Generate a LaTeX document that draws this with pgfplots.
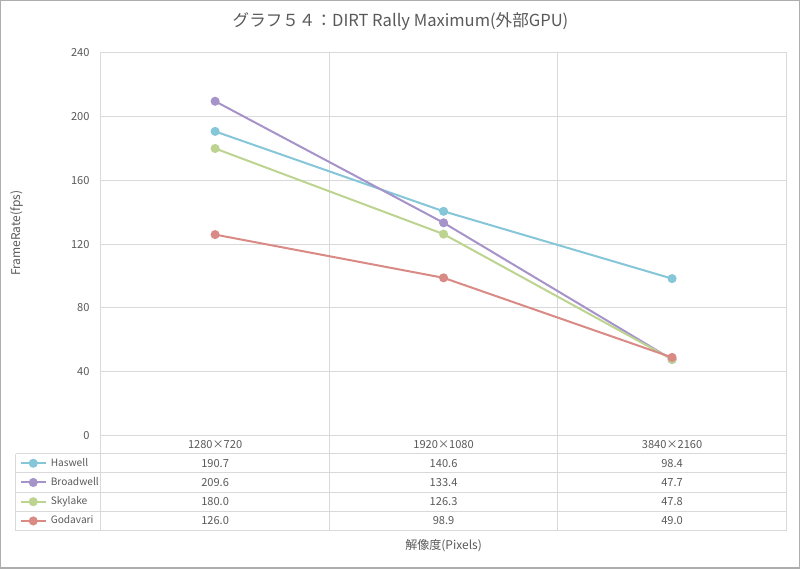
\documentclass[border=0pt]{standalone}
\usepackage{fontspec}
\setmainfont{Noto Sans CJK JP}
\usepackage{pgfplots}
\pgfplotsset{compat=1.18}

\definecolor{txt}{HTML}{595959}
\definecolor{gridc}{HTML}{D9D9D9}
\definecolor{framec}{HTML}{ADADAD}
\definecolor{has}{HTML}{85C6D8}
\definecolor{bro}{HTML}{A593C9}
\definecolor{sky}{HTML}{BCD48F}
\definecolor{god}{HTML}{D98A85}

\begin{document}
\begin{tikzpicture}
\begin{axis}[
    scale only axis,
    width=513pt, height=286.5pt,
    xmin=0, xmax=3, ymin=0, ymax=240,
    xtick={0.5,1.5,2.5},
    xticklabels={},
    minor xtick={1,2},
    ytick={0,40,...,240},
    xminorgrids, ymajorgrids,
    major tick length=0pt, minor tick length=0pt,
    axis line style={gridc, line width=0.75pt},
    grid style={gridc, line width=0.75pt},
    minor grid style={gridc, line width=0.75pt},
    /pgf/number format/assume math mode=true,
    tick label style={font=\fontsize{8.3}{9}\selectfont, text=txt},
    yticklabel style={xshift=-5pt},
    every axis plot/.append style={line width=1.5pt, mark=*, mark size=2.6pt},
    legend style={
        draw=none, fill=none,
        at={(-0.11842,-0.04712)}, anchor=north west,
        inner sep=0pt, outer sep=0pt,
        row sep=0pt, column sep=3pt,
        nodes={inner sep=0pt, minimum height=14.4pt, text=txt,
               font=\fontsize{7.6}{9}\selectfont},
    },
    legend cell align=left,
    legend image code/.code={
        \draw[mark repeat=2, mark phase=2]
            plot coordinates {(0pt,0pt) (9.4pt,0pt) (18.75pt,0pt)};
    },
]
    \addplot[has, mark options={fill=has}]
        coordinates {(0.5,190.7) (1.5,140.6) (2.5,98.4)};
    \addlegendentry{Haswell}
    \addplot[bro, mark options={fill=bro}]
        coordinates {(0.5,209.6) (1.5,133.4) (2.5,47.7)};
    \addlegendentry{Broadwell}
    \addplot[sky, mark options={fill=sky}]
        coordinates {(0.5,180.0) (1.5,126.3) (2.5,47.8)};
    \addlegendentry{Skylake}
    \addplot[god, mark options={fill=god}]
        coordinates {(0.5,126.0) (1.5,98.9) (2.5,49.0)};
    \addlegendentry{Godavari}
\end{axis}

% image pixel frame: (0,0) top left, 1px = 0.75pt
\begin{scope}[x=0.75pt, y=-0.75pt, shift={(-75.75pt,326.25pt)}]
    \draw[framec, line width=1pt] (1,1) rectangle (798,567);
    \node[text=txt, font=\fontsize{12.4}{14}\selectfont] at (400,22)
        {グラフ５４：DIRT Rally Maximum(外部GPU)};
    \node[text=txt, font=\fontsize{9}{10}\selectfont, rotate=90] at (17,233)
        {FrameRate(fps)};
    \node[text=txt, font=\fontsize{9}{10}\selectfont] at (443,545)
        {解像度(Pixels)};

    % data table
    \begin{scope}[gridc, line width=0.75pt]
        \foreach \yy in {453,472.2,491.4,510.6,529.8}
            \draw (16,\yy) -- (785,\yy);
        \draw (16,453) -- (16,529.8);
        \foreach \xx in {101,329,557,785}
            \draw (\xx,435) -- (\xx,529.8);
    \end{scope}
    \begin{scope}[every node/.style={text=txt, font=\fontsize{8.3}{9}\selectfont}]
        \node at (215,444) {1280×720};
        \node at (443,444) {1920×1080};
        \node at (671,444) {3840×2160};
        \node at (215,462.6) {190.7};
        \node at (443,462.6) {140.6};
        \node at (671,462.6) {98.4};
        \node at (215,481.8) {209.6};
        \node at (443,481.8) {133.4};
        \node at (671,481.8) {47.7};
        \node at (215,501.0) {180.0};
        \node at (443,501.0) {126.3};
        \node at (671,501.0) {47.8};
        \node at (215,520.2) {126.0};
        \node at (443,520.2) {98.9};
        \node at (671,520.2) {49.0};
    \end{scope}
\end{scope}
\end{tikzpicture}
\end{document}
